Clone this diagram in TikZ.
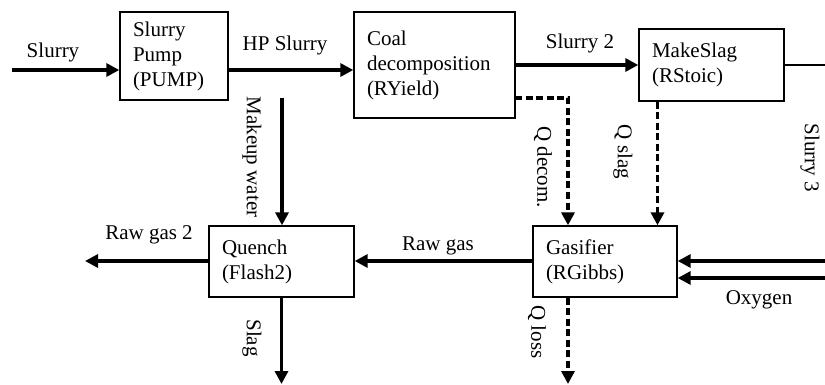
\documentclass[tikz,border=0pt]{standalone}
\usepackage{fontspec}
\setmainfont{Liberation Serif}
\usetikzlibrary{arrows.meta,positioning,calc}

\begin{document}
\begin{tikzpicture}[
    x=1pt, y=-1pt,
    every node/.style={font=\fontsize{21}{25}\selectfont},
    block/.style={draw, line width=1.4pt, align=left, inner xsep=13pt, inner ysep=0pt},
    flow/.style={-{Triangle[length=13pt,width=13pt]}, line width=3.4pt},
    heat/.style={flow, dash pattern=on 7pt off 3.5pt},
    lbl/.style={inner sep=0pt},
    vlbl/.style={lbl, rotate=-90}
]
\useasboundingbox (0,0) rectangle (825,385);
% units
\node[block, text width=82pt, minimum height=88pt] (pump) at (174,56) {Slurry\\Pump\\(PUMP)};
\node[block, text width=135pt, minimum height=106pt] (yield) at (434.5,65) {Coal\\decomposition\\(RYield)\\[6pt]};
\node[block, text width=119pt, minimum height=72pt] (mks) at (711.5,65) {MakeSlag\\(RStoic)};
\node[block, text width=119pt, minimum height=71pt] (quench) at (281.5,261.5) {Quench\\(Flash2)};
\node[block, text width=118pt, minimum height=71pt] (gas) at (605,261.5) {Gasifier\\(RGibbs)};
% free ends
\coordinate (feed) at (12,70);
\coordinate (s3) at (825,65);
\coordinate (s3in) at (825,261);
\coordinate (oxin) at (825,278);
\coordinate (mw) at (282,98);
\coordinate (qd) at (515,98);
\coordinate (rg2) at (85,261);
\coordinate (slagout) at (281.5,384);
\coordinate (qloss) at (568,384);
% streams
\draw[flow] (feed) -- (feed -| pump.west);
\draw[flow] (pump.east |- feed) -- (feed -| yield.west);
\draw[flow] (yield.east |- s3) -- (s3 -| mks.west);
\draw[line width=1.4pt] (mks.east |- s3) -- (s3);
\draw[flow] (mw) -- (mw |- quench.north);
\draw[flow] (quench.west |- rg2) -- (rg2);
\draw[flow] (gas.west |- rg2) -- (rg2 -| quench.east);
\draw[flow] (s3in) -- (s3in -| gas.east);
\draw[flow] (oxin) -- (oxin -| gas.east);
\draw[flow] (quench.south) -- (slagout);
% heat streams
\draw[heat] (qd) -| ([xshift=-37pt]gas.north);
\draw[heat] ([xshift=-54pt]mks.south) -- ([xshift=-54pt]mks.south |- gas.north);
\draw[heat] (qloss |- gas.south) -- (qloss);
% labels
\node[lbl] (lslurry) at (53,52) {Slurry};
\node[lbl] (lhp) at (285,45) {HP Slurry};
\node[lbl] (ls2) at (580,43) {Slurry 2};
\node[vlbl] (lmw) at (252,157) {Makeup water};
\node[vlbl] (lqd) at (543,167) {Q decom.};
\node[vlbl] (lqs) at (623,152) {Q slag};
\node[vlbl] (ls3) at (810,158) {Slurry 3};
\node[lbl] (lrg2) at (149,235) {Raw gas 2};
\node[lbl] (lrg) at (438,246) {Raw gas};
\node[lbl] (lox) at (759,300) {Oxygen};
\node[vlbl] (lql) at (537,332) {Q loss};
\node[vlbl] (lslag) at (252,338) {Slag};
\end{tikzpicture}
\end{document}
